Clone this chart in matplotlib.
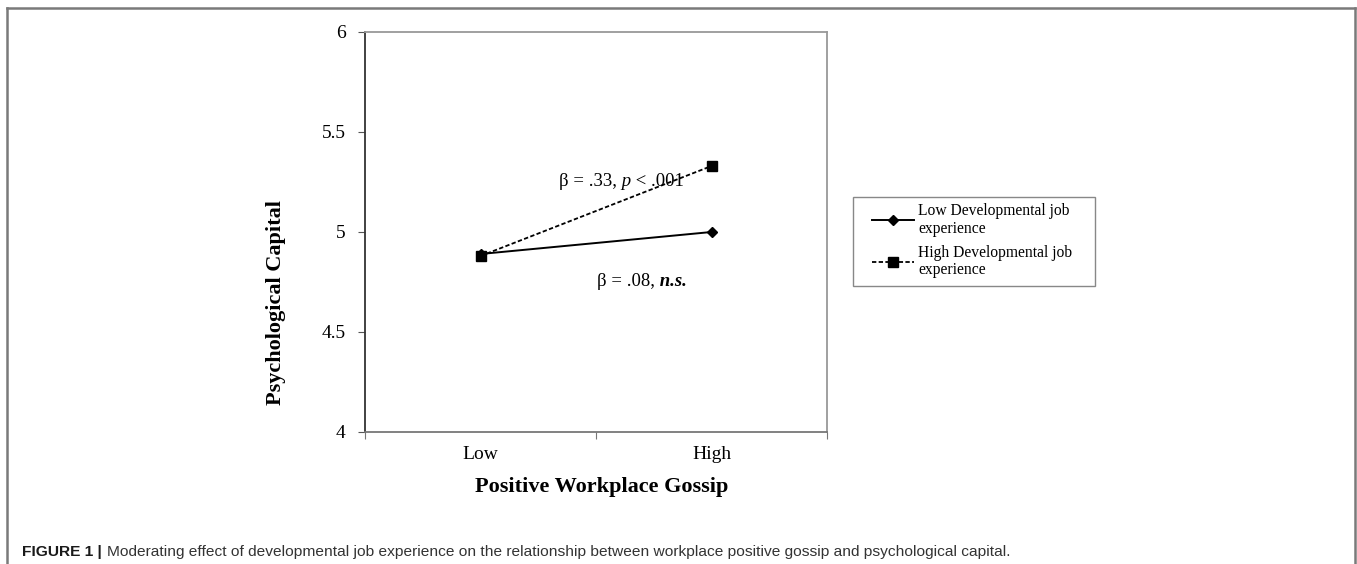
import matplotlib.pyplot as plt
from matplotlib.lines import Line2D
from matplotlib.patches import Rectangle

plt.rcParams['font.family'] = ['Liberation Serif', 'DejaVu Serif']

# data
categories = ['Low', 'High']
low_dev = [4.89, 5.00]
high_dev = [4.88, 5.33]
y_ticks = [4, 4.5, 5, 5.5, 6]
y_tick_labels = ['4', '4.5', '5', '5.5', '6']
series_names = ['Low Developmental job\nexperience', 'High Developmental job\nexperience']

W, H = 1357, 564
fig = plt.figure(figsize=(W / 100, H / 100), dpi=100)
ax = fig.add_axes([365 / W, 1 - 432 / H, 462 / W, 400 / H])

x = list(range(len(categories)))
ax.plot(x, low_dev, color='black', lw=1.4, ls='-', marker='D', ms=5.5, label=series_names[0])
ax.plot(x, high_dev, color='black', lw=1.3, ls=(0, (2.4, 1.3)), marker='s', ms=6.5, label=series_names[1])

ax.set_xlim(-0.5, 1.5)
ax.set_ylim(4, 6)
ax.set_xticks([-0.5, 0.5, 1.5])
ax.set_xticklabels([])
ax.set_xticks(x, minor=True)
ax.set_xticklabels(categories, minor=True, fontsize=14)
ax.tick_params(axis='x', which='minor', length=0, pad=10)
ax.tick_params(axis='x', which='major', length=5, direction='out', color='#777777')
ax.set_yticks(y_ticks)
ax.set_yticklabels(y_tick_labels, fontsize=14)
ax.tick_params(axis='y', length=5, direction='out', pad=9, color='#555555')

ax.spines['left'].set_color('#333333')
ax.spines['bottom'].set_color('#777777')
for s in ['top', 'right']:
    ax.spines[s].set_color('#999999')
for s in ax.spines.values():
    s.set_linewidth(1.3)

fig.text(602 / W, 1 - 487 / H, 'Positive Workplace Gossip', fontsize=16, fontweight='bold',
         ha='center', va='center')
fig.text(276 / W, 1 - 303 / H, 'Psychological Capital', fontsize=16, fontweight='bold',
         ha='center', va='center', rotation=90)


def chain(first, parts, **kw):
    prev = first
    for s, style, weight in parts:
        prev = ax.annotate(s, xy=(1, 0), xycoords=prev, va='bottom', ha='left',
                           fontstyle=style, fontweight=weight, annotation_clip=False, **kw)
    return prev


t = ax.text(0.34, 5.255, 'β = .33,', fontsize=13.5, va='center', ha='left')
chain(t, [(' p', 'italic', 'normal'), (' < .001', 'normal', 'normal')], fontsize=13.5)
t = ax.text(0.505, 4.75, 'β = .08,', fontsize=13.5, va='center', ha='left')
chain(t, [(' n.s.', 'italic', 'bold')], fontsize=13.5)

# legend: frame drawn separately so the inner padding can match
fig.add_artist(Rectangle((853 / W, 1 - 286 / H), 242 / W, 89 / H, transform=fig.transFigure,
                         facecolor='white', edgecolor='#888888', lw=1.0))
leg = fig.legend(loc='upper left', bbox_to_anchor=(872 / W, 1 - 203 / H),
                 borderaxespad=0, frameon=False, borderpad=0,
                 fontsize=11.25, handlelength=2.7, labelspacing=0.5,
                 numpoints=1, handletextpad=0.25)
for txt in leg.get_texts():
    txt.set_linespacing(1.15)

# outer panel frame
fc = '#7a7a7a'
x0, x1, yt = 7 / W, 1355 / W, 1 - 8 / H
for xs, ys in [([x0, x0], [0, yt]), ([x0, x1], [yt, yt]), ([x1, x1], [yt, 0])]:
    fig.add_artist(Line2D(xs, ys, transform=fig.transFigure, color=fc, lw=1.8))

t1 = fig.text(22 / W, 1 - 556 / H, 'FIGURE 1 |', family='Liberation Sans',
              fontsize=11.15, fontweight='bold', va='baseline', ha='left', color='#1a1a1a')
ax.annotate('Moderating effect of developmental job experience on the relationship between '
            'workplace positive gossip and psychological capital.', xy=(1, 0), xycoords=t1,
            xytext=(4, 0), textcoords='offset points', family='Liberation Sans',
            fontsize=11.15, color='#333333', va='bottom', ha='left',
            annotation_clip=False)

fig.savefig('out.png', dpi=100)
